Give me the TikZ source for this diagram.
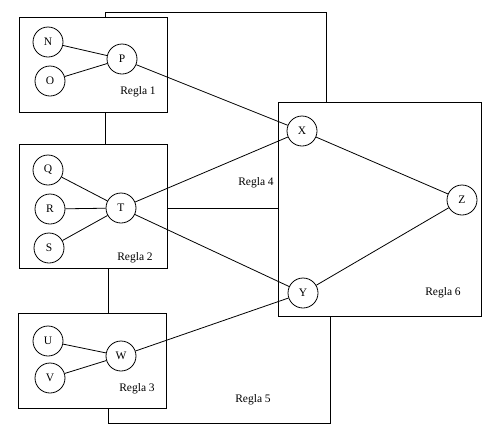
\documentclass[tikz,border=0pt]{standalone}
\usepackage{fontspec}
\setmainfont{Liberation Serif}
\begin{document}
\begin{tikzpicture}[x=1pt,y=-1pt,
  every node/.style={font=\fontsize{11.5}{13}\selectfont},
  st/.style={circle,draw,line width=0.8pt,minimum size=30pt,inner sep=0pt},
  box/.style={draw,line width=0.8pt},
  ln/.style={line width=0.8pt},
  lab/.style={inner sep=0pt}]
\useasboundingbox (0,0) rectangle (487,429);
% boxes
\draw[box] (19,17) rectangle (167,112);
\draw[box] (19,144) rectangle (167,268);
\draw[box] (18,313) rectangle (166,408);
\draw[box] (278,102) rectangle (481,316);
% outer rule lines
\draw[ln] (105,17) -- (105,12) -- (326,12) -- (326,102);
\draw[ln] (105,112) -- (105,144);
\draw[ln] (167,208) -- (278,208);
\draw[ln] (108,268) -- (108,313);
\draw[ln] (108,408) -- (108,423) -- (330,423) -- (330,316);
% nodes
\node[st] (N) at (48,42) {N};
\node[st] (O) at (50,81) {O};
\node[st] (P) at (122,59) {P};
\node[st] (Q) at (48,170) {Q};
\node[st] (R) at (50,209) {R};
\node[st] (S) at (49,248) {S};
\node[st] (T) at (121,208) {T};
\node[st] (U) at (48,341) {U};
\node[st] (V) at (50,378) {V};
\node[st] (W) at (121,356) {W};
\node[st] (X) at (302,131) {X};
\node[st] (Y) at (303,293) {Y};
\node[st] (Z) at (462,200) {Z};
% labels
\node[lab] (r1) at (138,92) {Regla 1};
\node[lab] (r2) at (135,258) {Regla 2};
\node[lab] (r3) at (137,389) {Regla 3};
\node[lab] (r4) at (256,183) {Regla 4};
\node[lab] (r5) at (253,400) {Regla 5};
\node[lab] (r6) at (443,293) {Regla 6};
% connectors
\draw[ln] (N) -- (P);
\draw[ln] (O) -- (P);
\draw[ln] (Q) -- (T);
\draw[ln] (R) -- (T);
\draw[ln] (S) -- (T);
\draw[ln] (U) -- (W);
\draw[ln] (V) -- (W);
\draw[ln] (P) -- (X);
\draw[ln] (T) -- (X);
\draw[ln] (T) -- (Y);
\draw[ln] (W) -- (Y);
\draw[ln] (X) -- (Z);
\draw[ln] (Y) -- (Z);
\end{tikzpicture}
\end{document}
